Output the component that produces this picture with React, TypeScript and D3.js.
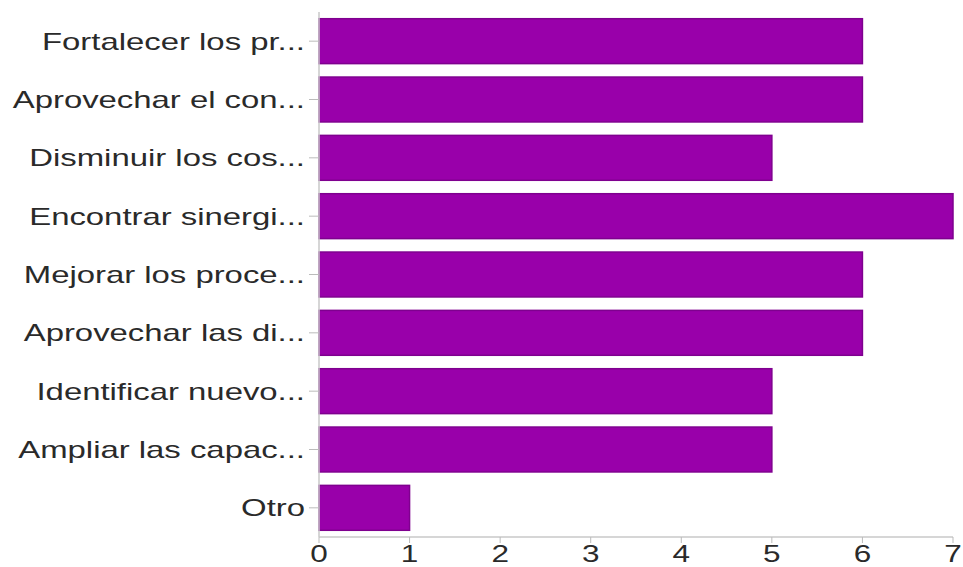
import React from "react";
import * as d3 from "d3";

const categories = [
  "Fortalecer los pr...",
  "Aprovechar el con...",
  "Disminuir los cos...",
  "Encontrar sinergi...",
  "Mejorar los proce...",
  "Aprovechar las di...",
  "Identificar nuevo...",
  "Ampliar las capac...",
  "Otro",
];
const values = [6, 6, 5, 7, 6, 6, 5, 5, 1];
const xTicks = [0, 1, 2, 3, 4, 5, 6, 7];

const W = 963;
const H = 567;
const left = 319;
const right = 953;
const top = 12;
const bottom = 537;
const SX = 1.37;

export default function App() {
  const x = d3.scaleLinear().domain([0, 7]).range([left, right]);
  const y = d3
    .scaleBand<string>()
    .domain(categories)
    .range([top, bottom])
    .paddingInner(0.23)
    .paddingOuter(0.115);
  const font = "'Liberation Sans', Arial, Helvetica, sans-serif";
  return (
    <svg
      width={W}
      height={H}
      style={{ position: "absolute", left: 0, top: 0, background: "#fff" }}
    >
      {categories.map((c, i) => (
        <rect
          key={c}
          x={x(0)}
          y={y(c)!}
          width={x(values[i]) - x(0)}
          height={y.bandwidth()}
          fill="#9900aa"
          stroke="#7f008f"
          strokeWidth={1.5}
        />
      ))}
      {/* y axis */}
      <line x1={left} x2={left} y1={top} y2={bottom} stroke="#c8c8c8" strokeWidth={1.5} />
      {categories.map((c) => {
        const cy = y(c)! + y.bandwidth() / 2;
        return (
          <g key={"yl" + c}>
            <line x1={left - 10} x2={left} y1={cy} y2={cy} stroke="#bbb" strokeWidth={1} />
            <text
              transform={`translate(305,${cy}) scale(${SX},1)`}
              textAnchor="end"
              dy="0.36em"
              fontFamily={font}
              fontSize={24}
              fill="#2a2a2a"
            >
              {c}
            </text>
          </g>
        );
      })}
      {/* x axis */}
      <line x1={left} x2={right} y1={bottom} y2={bottom} stroke="#c8c8c8" strokeWidth={1.5} />
      {xTicks.map((t) => (
        <g key={"xt" + t}>
          <line x1={x(t)} x2={x(t)} y1={bottom} y2={bottom + 6} stroke="#bbb" strokeWidth={1} />
          <text
            transform={`translate(${x(t)},${bottom + 25}) scale(${SX},1)`}
            textAnchor="middle"
            fontFamily={font}
            fontSize={23}
            fill="#2a2a2a"
          >
            {t}
          </text>
        </g>
      ))}
    </svg>
  );
}
